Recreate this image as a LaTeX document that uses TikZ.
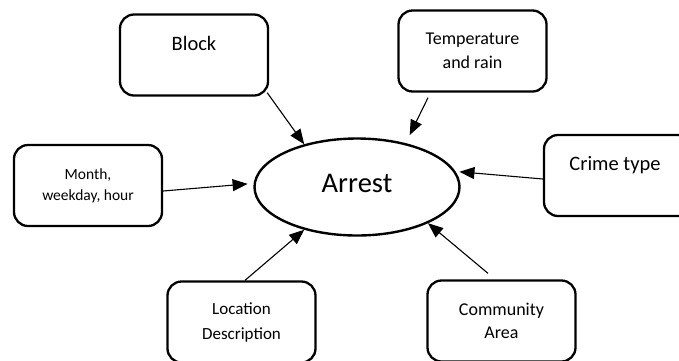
\documentclass[tikz,border=0pt]{standalone}
\usepackage{fontspec}
\setmainfont{Carlito}
\usetikzlibrary{arrows.meta,shapes.geometric,calc}
\begin{document}
\begin{tikzpicture}[x=1pt,y=-1pt,
  box/.style={draw,line width=2.3pt,rounded corners=14pt,minimum width=148pt,minimum height=81pt,inner sep=0pt,align=center},
  conn/.style={line width=1.1pt,-{Triangle[length=15pt,width=12pt]}},
  bigtxt/.style={font=\fontsize{20.5}{24}\selectfont},
  midtxt/.style={font=\fontsize{18}{24}\selectfont},
  smalltxt/.style={font=\fontsize{15.5}{21}\selectfont}]
\useasboundingbox (0,0) rectangle (679,360);
\clip (0,0) rectangle (679,360);

\node[draw,ellipse,line width=2.4pt,minimum width=205pt,minimum height=97pt,inner sep=0pt,
      label={[font=\fontsize{28.5}{34}\selectfont,yshift=4pt]center:Arrest}] (arrest) at (357,187) {};

\node[box,label={[bigtxt,yshift=12pt]center:Block}] (block) at (194,55) {};
\node[box,midtxt] (temp) at (472.5,51) {Temperature\\and rain};
\node[box,smalltxt] (month) at (88,185.5) {Month,\\weekday, hour};
\node[box,label={[bigtxt,yshift=10pt,xshift=-3pt]center:Crime type}] (crime) at (618,175.5) {};
\node[box,font=\fontsize{17}{25}\selectfont] (loc) at (241.5,322) {Location\\Description};
\node[box,font=\fontsize{18}{23}\selectfont] (comm) at (501.5,321) {Community\\Area};

\draw[conn] ($(block.south east)+(-2,-4)$) -- (arrest.141.7);
\draw[conn,shorten >=9pt] ($(temp.south)+(-44.5,5)$) -- (arrest.42);
\draw[conn,shorten >=6pt] ($(month.east)+(0,5.5)$) -- (arrest.178);
\draw[conn,shorten >=4pt] ($(crime.west)+(0,3.5)$) -- (arrest.9.8);
\draw[conn] ($(loc.north)+(3.5,0)$) -- (arrest.219);
\draw[conn] ($(comm.north)+(-13.5,-6)$) -- (arrest.333);
\end{tikzpicture}
\end{document}
